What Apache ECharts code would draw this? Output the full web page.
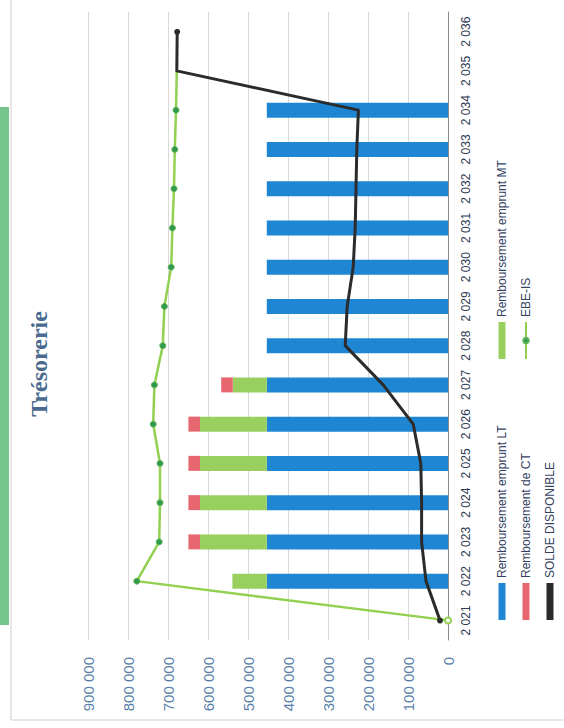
<!DOCTYPE html>
<html>
<head>
<meta charset="utf-8">
<script src="https://cdn.jsdelivr.net/npm/echarts@6/dist/echarts.min.js"></script>
<style>
html,body{margin:0;padding:0;background:#fff;overflow:hidden;width:564px;height:728px}
#wrap{position:absolute;left:0;top:0;width:728px;height:564px;transform-origin:0 0;transform:translate(0,728px) rotate(-90deg)}
</style>
</head>
<body>
<div id="wrap"></div>
<script>
const years = [2021,2022,2023,2024,2025,2026,2027,2028,2029,2030,2031,2032,2033,2034,2035,2036];
const rembLT = [null,453000,453000,453000,453000,453000,453000,453000,453000,453000,453000,453000,453000,453000,null,null];
const rembMT = [null,86000,167000,167000,167000,167000,85000,null,null,null,null,null,null,null,null,null];
const rembCT = [null,null,29000,29000,29000,29000,29000,null,null,null,null,null,null,null,null,null];
const ebeIS = [0,778000,722000,720000,720000,737000,734000,713000,709000,692000,689000,685000,683000,680000,678000,null];
const solde = [20000,55000,66000,66000,68000,87000,162000,257000,252000,237000,232000,230000,228000,224000,678000,677000];
const valueTicks = [0,100000,200000,300000,400000,500000,600000,700000,800000,900000];
const seriesNames = ['Remboursement emprunt LT','Remboursement emprunt MT','Remboursement de CT','EBE-IS','SOLDE DISPONIBLE'];

const fmt = v => String(v).replace(/\B(?=(\d{3})+(?!\d))/g, ' ');
const lastIdx = solde.length - 1;

const chart = echarts.init(document.getElementById('wrap'), null, {renderer:'svg', width:728, height:564});
chart.setOption({
  animation:false,
  backgroundColor:'#ffffff',
  title:{text:'Trésorerie', left:'center', top:22,
    textStyle:{fontFamily:'Liberation Serif', fontWeight:'bold', fontSize:24, color:'#4a6b8f'}},
  grid:{left:88, right:12, top:88, bottom:116},
  xAxis:{type:'category', data:years,
    axisLine:{show:true, lineStyle:{color:'#8c8c8c', width:1}},
    axisTick:{show:false},
    axisLabel:{formatter:v=>fmt(v), margin:12, color:'#2f3b55', fontSize:12, fontFamily:'Liberation Sans'}},
  yAxis:{type:'value', min:valueTicks[0], max:valueTicks[valueTicks.length-1], interval:valueTicks[1]-valueTicks[0],
    axisLine:{show:false}, axisTick:{show:false},
    splitLine:{lineStyle:{color:'#d9d9d9', width:1}},
    axisLabel:{formatter:v=>fmt(v), margin:17, color:'#5b7fab', fontSize:15, fontFamily:'Liberation Sans'}},
  legend:[
    {data:[{name:seriesNames[0],icon:'rect'},{name:seriesNames[2],icon:'rect'},{name:seriesNames[4],icon:'rect'}],
     orient:'vertical', left:108, top:495, padding:0, itemWidth:37, itemHeight:7, itemGap:10,
     textStyle:{fontSize:12, lineHeight:14, color:'#34425f', fontFamily:'Liberation Sans'}},
    {data:[{name:seriesNames[1],icon:'rect'},{name:seriesNames[3]}],
     orient:'vertical', left:368, top:495, padding:0, itemWidth:37, itemHeight:7, itemGap:10,
     textStyle:{fontSize:12, lineHeight:14, color:'#34425f', fontFamily:'Liberation Sans'}}
  ],
  graphic:[
    {type:'rect', shape:{x:8, y:11, width:760, height:600}, style:{fill:'none', stroke:'#cfcfcf', lineWidth:1}, z:-10},
    {type:'rect', shape:{x:103, y:0, width:518, height:9}, style:{fill:'#74c48c'}, z:-10}
  ],
  series:[
    {name:seriesNames[0], type:'bar', stack:'a', data:rembLT, barWidth:15, itemStyle:{color:'#1f86d3'}},
    {name:seriesNames[1], type:'bar', stack:'a', data:rembMT, itemStyle:{color:'#98cf5e'}},
    {name:seriesNames[2], type:'bar', stack:'a', data:rembCT, itemStyle:{color:'#e6676f'}},
    {name:seriesNames[3], type:'line',
     data:ebeIS.map((v,i)=> i===0 ? {value:v, itemStyle:{color:'#ffffff', borderColor:'#92d050', borderWidth:2}}
                              : (i===14 ? {value:v, symbolSize:0} : v)),
     symbol:'circle', symbolSize:6, z:3,
     lineStyle:{color:'#92d050', width:2.5},
     itemStyle:{color:'#2f9a4c', borderColor:'#5fb35a', borderWidth:1}},
    {name:seriesNames[4], type:'line',
     data:solde.map((v,i)=> (i===0 || i===lastIdx) ? {value:v, symbolSize:6} : {value:v, symbolSize:0}),
     symbol:'circle', z:4,
     lineStyle:{color:'#2b2b2b', width:3, join:'round'},
     itemStyle:{color:'#2b2b2b'}}
  ]
});
</script>
</body>
</html>
